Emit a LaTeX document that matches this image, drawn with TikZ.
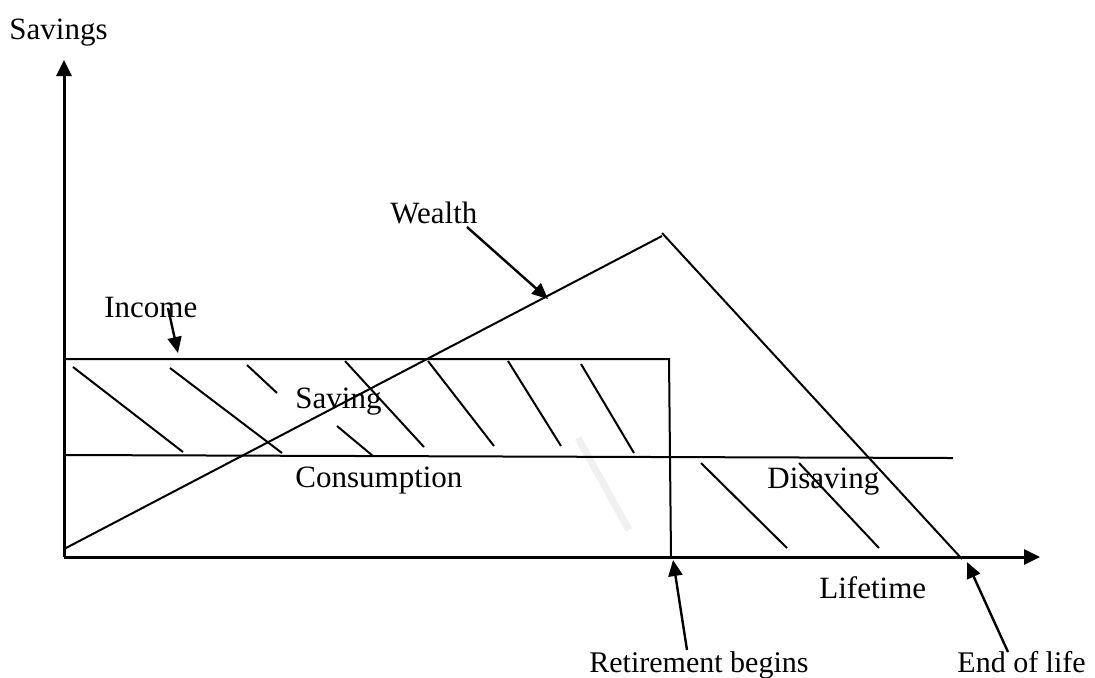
\documentclass[tikz,border=0pt]{standalone}
\usepackage{fontspec}
\setmainfont{Liberation Serif}
\usetikzlibrary{arrows.meta}
\begin{document}
\begin{tikzpicture}[x=0.5pt,y=-0.5pt,
    axis/.style={line width=1.5pt,-{Triangle[length=8pt,width=7.5pt]}},
    ptr/.style={line width=1.2pt,-{Triangle[length=8pt,width=7pt]}},
    lbl/.style={anchor=base west,inner sep=0pt,font=\fontsize{15.5}{18}\selectfont}]
    \tikzstyle{curve}=[line width=1pt]
    \tikzstyle{hatch}=[line width=1pt]
    \useasboundingbox (0,0) rectangle (1095,677);

    % faint mark
    \draw[line width=3.5pt,black!6] (578,438) -- (629,530);

    % axes
    \coordinate (O) at (64,557);
    \coordinate (ytop) at (64,60);
    \coordinate (xend) at (1040,557);
    \draw[axis] (O) -- (ytop);
    \draw[axis] (O) -- (xend);

    % income, consumption, wealth
    \coordinate (inc0) at (64,359);
    \coordinate (inc1) at (669,359);
    \coordinate (ret) at (671,557);
    \coordinate (con0) at (64,455);
    \coordinate (con1) at (953,458);
    \coordinate (w0) at (64,549);
    \coordinate (peak) at (662,236);
    \coordinate (eol) at (962,559);
    \draw[curve] (inc0) -- (inc1) -- (ret);
    \draw[curve] (con0) -- (con1);
    \draw[curve] (w0) -- (peak);
    \draw[curve] (peak) ++(0,-3) -- (eol);

    % hatching
    \foreach \a/\b/\c/\d in {73/367/183/452, 170/368/282/453, 247/365/277/393,
        345/361/424/447, 337/426/373/456, 428/361/494/446, 508/361/561/446,
        581/364/634/453, 701/463/787/548, 799/463/879/548}
      \draw[hatch] (\a,\b) -- (\c,\d);

    % labels
    \node[lbl] (sav) at (9,39) {Savings};
    \node[lbl] (wl) at (390,223) {Wealth};
    \node[lbl] (inc) at (104,317) {Income};
    \node[lbl] (sv) at (295,408) {Saving};
    \node[lbl] (cons) at (295,487) {Consumption};
    \node[lbl] (dis) at (767,488) {Disaving};
    \node[lbl] (life) at (819,598) {Lifetime};
    \node[lbl,font=\fontsize{15}{18}\selectfont] (retl) at (589,672) {Retirement begins};
    \node[lbl,font=\fontsize{15}{18}\selectfont] (endl) at (957,672) {End of life};

    % pointers
    \coordinate (wt) at (467,227);
    \coordinate (wh) at (548,299);
    \coordinate (it) at (168,308);
    \coordinate (ih) at (178,353);
    \coordinate (rt) at (687,650);
    \coordinate (rh) at (673,560);
    \coordinate (et) at (1008,652);
    \coordinate (eh) at (967,562);
    \draw[ptr] (wt) -- (wh);
    \draw[ptr] (it) -- (ih);
    \draw[ptr] (rt) -- (rh);
    \draw[ptr] (et) -- (eh);

\end{tikzpicture}
\end{document}
